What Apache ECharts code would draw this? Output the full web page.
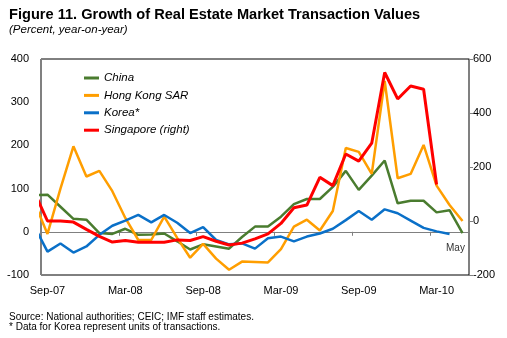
<!DOCTYPE html>
<html>
<head>
<meta charset="utf-8">
<script src="https://cdn.jsdelivr.net/npm/echarts@6/dist/echarts.min.js"></script>
<style>
html,body{margin:0;padding:0;background:#fff;}
#chart{width:507px;height:338px;}
</style>
</head>
<body>
<div id="chart"></div>
<script>
// Axis categories (one per month, Sep-07 .. May-10)
var categories = ["Sep-07","Oct-07","Nov-07","Dec-07","Jan-08","Feb-08","Mar-08","Apr-08","May-08","Jun-08","Jul-08","Aug-08",
  "Sep-08","Oct-08","Nov-08","Dec-08","Jan-09","Feb-09","Mar-09","Apr-09","May-09","Jun-09","Jul-09","Aug-09",
  "Sep-09","Oct-09","Nov-09","Dec-09","Jan-10","Feb-10","Mar-10","Apr-10","May-10"];
// Months of the series data (starts one month earlier; that point is clipped by the plot edge)
var seriesMonths = ["Aug-07"].concat(categories);

var china     = [85, 86, 58, 30, 28, -3, -5, 7, -7, -6, -4, -22, -41, -29, -34, -39, -12, 12, 12, 35, 64, 76, 76, 104, 141, 97, 130, 165, 66, 72, 72, 45, 50, -3];
var hongKong  = [67, -5, 100, 198, 128, 141, 94, 32, -19, -19, 35, -14, -60, -28, -62, -88, -69, -70, -71, -40, 12, 28, 3, 48, 194, 185, 134, 349, 124, 134, 201, 107, 62, 25];
var korea     = [12, -46, -27, -48, -34, -7, 14, 26, 39, 22, 39, 21, -3, 11, -19, -29, -27, -39, -15, -11, -22, -11, -4, 7, 27, 48, 28, 52, 43, 26, 9, 1, -5, null];
var singapore = [106, 0, 0, -4, -31, -57, -78, -72, -79, -79, -79, -70, -72, -58, -75, -89, -82, -66, -48, -9, 49, 59, 162, 131, 248, 222, 288, 550, 452, 500, 488, 135, null, null];

var leftTicks  = {min: -100, max: 400, interval: 100};
var rightTicks = {min: -200, max: 600, interval: 200};

var FONT = "'Liberation Sans', Arial, sans-serif";

function toXY(arr) {
  var out = [];
  for (var i = 0; i < arr.length; i++) {
    if (arr[i] !== null) out.push([i - 1, arr[i]]);
  }
  return out;
}

var chart = echarts.init(document.getElementById('chart'), null, {renderer: 'canvas'});
var lineBase = {type: 'line', xAxisIndex: 2, symbol: 'none', smooth: false, clip: true, animation: false};

chart.setOption({
  animation: false,
  backgroundColor: '#ffffff',
  textStyle: {fontFamily: FONT},
  grid: {left: 41, right: 38, top: 59, bottom: 63, show: true, borderColor: '#000', borderWidth: 1, containLabel: false},
  legend: {
    orient: 'vertical', left: 79, top: 67, icon: 'rect', itemWidth: 15, itemHeight: 3, itemGap: 5.4,
    textStyle: {fontFamily: FONT, fontSize: 11.5, fontStyle: 'italic', color: '#000'},
    data: ['China', 'Hong Kong SAR', 'Korea*', 'Singapore (right)']
  },
  xAxis: [
    {
      type: 'category', data: categories, boundaryGap: true, gridIndex: 0, position: 'bottom',
      axisLine: {show: true, onZero: true, onZeroAxisIndex: 0, lineStyle: {color: '#808080', width: 1}},
      axisTick: {show: true, interval: 5, length: 4, inside: false, lineStyle: {color: '#808080'}},
      axisLabel: {show: false}, splitLine: {show: false}
    },
    {
      type: 'category', data: categories, boundaryGap: true, gridIndex: 0, position: 'bottom',
      axisLine: {show: false, onZero: false}, axisTick: {show: false},
      axisLabel: {show: true, interval: 5, margin: 10, fontSize: 11, color: '#000', fontFamily: FONT},
      splitLine: {show: false}
    },
    {
      type: 'value', min: -0.5, max: 32.5, show: false, gridIndex: 0,
      axisLine: {onZero: false}
    }
  ],
  yAxis: [
    {
      type: 'value', position: 'left', min: leftTicks.min, max: leftTicks.max, interval: leftTicks.interval,
      axisLine: {show: true, onZero: false, lineStyle: {color: '#808080', width: 1}}, axisTick: {show: false},
      axisLabel: {margin: 12, fontSize: 11, color: '#000', fontFamily: FONT}, splitLine: {show: false}
    },
    {
      type: 'value', position: 'right', min: rightTicks.min, max: rightTicks.max, interval: rightTicks.interval,
      axisLine: {show: true, onZero: false, lineStyle: {color: '#808080', width: 1}},
      axisTick: {show: true, length: 4, inside: false, lineStyle: {color: '#808080'}},
      axisLabel: {margin: 4, fontSize: 11, color: '#000', fontFamily: FONT}, splitLine: {show: false}
    }
  ],
  series: [
    Object.assign({}, lineBase, {name: 'China', yAxisIndex: 0, data: toXY(china), color: '#4A7C2F', lineStyle: {color: '#4A7C2F', width: 2.5}}),
    Object.assign({}, lineBase, {name: 'Hong Kong SAR', yAxisIndex: 0, data: toXY(hongKong), color: '#FF9E00', lineStyle: {color: '#FF9E00', width: 2.5}}),
    Object.assign({}, lineBase, {name: 'Korea*', yAxisIndex: 0, data: toXY(korea), color: '#0A70C8', lineStyle: {color: '#0A70C8', width: 2.5}}),
    Object.assign({}, lineBase, {name: 'Singapore (right)', yAxisIndex: 1, data: toXY(singapore), color: '#FF0000', lineStyle: {color: '#FF0000', width: 3}})
  ],
  graphic: [
    {type: 'text', left: 9, top: 7, style: {text: 'Figure 11. Growth of Real Estate Market Transaction Values', font: 'bold 14.6px ' + FONT, fill: '#000'}},
    {type: 'text', left: 9, top: 23.5, style: {text: '(Percent, year-on-year)', font: 'italic 11.5px ' + FONT, fill: '#000'}},
    {type: 'text', left: 446, top: 243.5, style: {text: 'May', font: '10px ' + FONT, fill: '#333'}},
    {type: 'text', left: 9, top: 312.5, style: {text: 'Source: National authorities; CEIC; IMF staff estimates.', font: '10px ' + FONT, fill: '#000'}},
    {type: 'text', left: 9, top: 322, style: {text: '* Data for Korea represent units of transactions.', font: '10px ' + FONT, fill: '#000'}}
  ]
});
</script>
</body>
</html>
